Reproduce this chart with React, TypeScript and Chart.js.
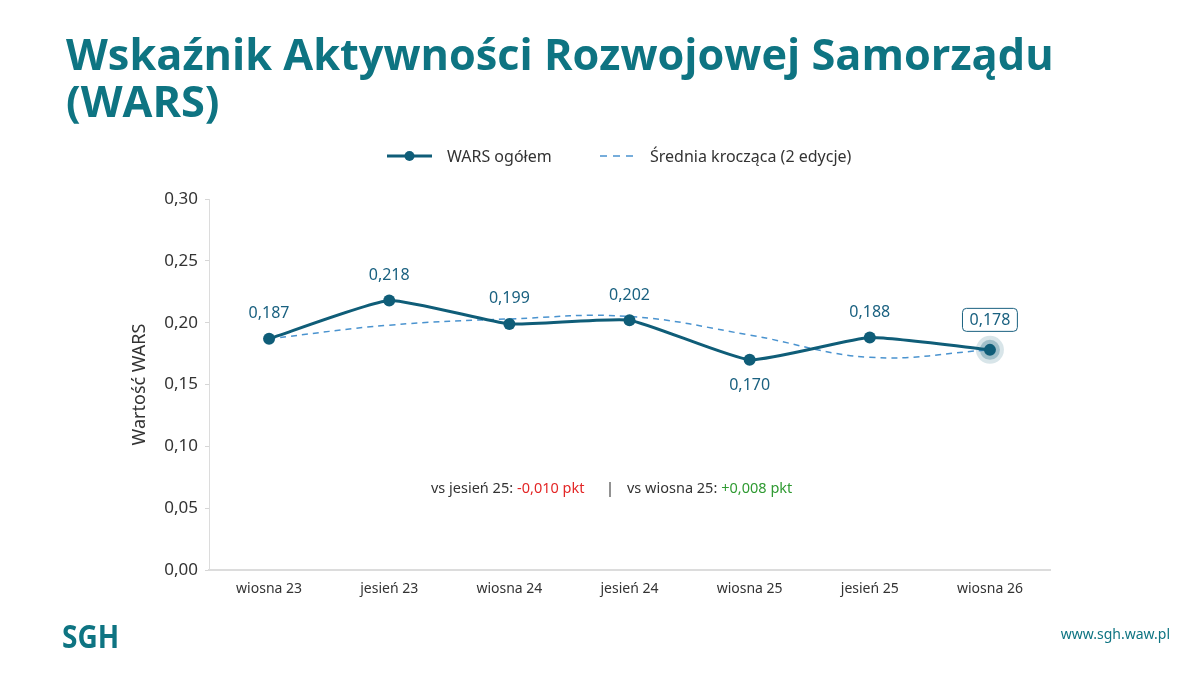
import React, { useEffect, useRef } from "react";
import { Chart, registerables } from "chart.js";

Chart.register(...registerables);

// Edycje badania
const categories = ["wiosna 23", "jesień 23", "wiosna 24", "jesień 24", "wiosna 25", "jesień 25", "wiosna 26"];
// Wartość WARS ogółem w kolejnych edycjach
const warsValues = [0.187, 0.218, 0.199, 0.202, 0.17, 0.188, 0.178];
// Średnia krocząca (2 edycje)
const movingAverage = [0.187, 0.198, 0.203, 0.205, 0.19, 0.172, 0.178];
// Oś Y
const yMin = 0;
const yMax = 0.3;
const yStep = 0.05;

const TEAL = "#0e7482";
const LINE = "#0f5d78";
const LABEL = "#1a6180";
const DASH = "#4a93cf";
const TEXT = "#333333";
const RED = "#e32626";
const GREEN = "#2f9a32";
const FONT = "'Noto Sans', 'Open Sans', sans-serif";

const fmt = (v: number, d: number) => v.toFixed(d).replace(".", ",");
const signed = (v: number) => (v >= 0 ? "+" : "-") + fmt(Math.abs(v), 3);

const overlayPlugin = {
  id: "warsOverlay",
  beforeDatasetsDraw(chart: any) {
    const ctx = chart.ctx;
    const meta = chart.getDatasetMeta(0);
    const last = meta.data[meta.data.length - 1];
    if (!last) return;
    ctx.save();
    ctx.fillStyle = "rgba(15, 93, 120, 0.16)";
    ctx.beginPath();
    ctx.arc(last.x, last.y, 14, 0, Math.PI * 2);
    ctx.fill();
    ctx.fillStyle = "rgba(15, 93, 120, 0.28)";
    ctx.beginPath();
    ctx.arc(last.x, last.y, 10, 0, Math.PI * 2);
    ctx.fill();
    ctx.restore();
  },
  afterDatasetsDraw(chart: any) {
    const ctx = chart.ctx;
    const meta = chart.getDatasetMeta(0);
    const n = meta.data.length;
    ctx.save();
    ctx.font = `16px ${FONT}`;
    ctx.textAlign = "center";
    ctx.textBaseline = "middle";
    const minIdx = warsValues.indexOf(Math.min(...warsValues));
    meta.data.forEach((pt: any, i: number) => {
      const text = fmt(warsValues[i], 3);
      if (i === n - 1) {
        const w = ctx.measureText(text).width + 14;
        const h = 23;
        const cy = pt.y - 30;
        ctx.fillStyle = "#ffffff";
        ctx.strokeStyle = LABEL;
        ctx.lineWidth = 1;
        ctx.beginPath();
        ctx.roundRect(pt.x - w / 2, cy - h / 2, w, h, 4);
        ctx.fill();
        ctx.stroke();
        ctx.fillStyle = LABEL;
        ctx.fillText(text, pt.x, cy + 1);
      } else {
        ctx.fillStyle = LABEL;
        ctx.fillText(text, pt.x, i === minIdx ? pt.y + 26 : pt.y - 25);
      }
    });

    // Różnice względem poprzednich edycji
    const dAutumn = warsValues[n - 1] - warsValues[n - 2];
    const dSpring = warsValues[n - 1] - warsValues[n - 3];
    ctx.font = `14.5px ${FONT}`;
    ctx.textAlign = "left";
    const drawGroup = (x: number, prefix: string, delta: number) => {
      ctx.fillStyle = TEXT;
      ctx.fillText(prefix, x, 489);
      x += ctx.measureText(prefix).width + 4;
      ctx.fillStyle = delta < 0 ? RED : GREEN;
      ctx.fillText(`${signed(delta)} pkt`, x, 489);
    };
    drawGroup(431, `vs ${categories[n - 2]}:`, dAutumn);
    ctx.fillStyle = TEXT;
    ctx.fillText("|", 606, 489);
    drawGroup(627, `vs ${categories[n - 3]}:`, dSpring);
    ctx.restore();
  },
  afterDraw(chart: any) {
    // Legenda
    const ctx = chart.ctx;
    const y = 156;
    ctx.save();
    ctx.font = `16px ${FONT}`;
    ctx.textBaseline = "middle";
    ctx.textAlign = "left";
    const l1 = chart.data.datasets[0].label;
    const l2 = chart.data.datasets[1].label;
    let x = 387;
    ctx.strokeStyle = LINE;
    ctx.lineWidth = 3;
    ctx.beginPath();
    ctx.moveTo(x, y);
    ctx.lineTo(x + 45, y);
    ctx.stroke();
    ctx.fillStyle = LINE;
    ctx.beginPath();
    ctx.arc(x + 22.5, y, 5, 0, Math.PI * 2);
    ctx.fill();
    ctx.fillStyle = TEXT;
    ctx.fillText(l1, 447, y + 1);
    x = 600;
    ctx.strokeStyle = DASH;
    ctx.lineWidth = 1.5;
    ctx.setLineDash([7, 6]);
    ctx.beginPath();
    ctx.moveTo(x, y);
    ctx.lineTo(x + 36, y);
    ctx.stroke();
    ctx.setLineDash([]);
    ctx.fillStyle = TEXT;
    ctx.fillText(l2, 650, y + 1);
    ctx.restore();
  },
};

export default function App() {
  const canvasRef = useRef<HTMLCanvasElement | null>(null);

  useEffect(() => {
    const canvas = canvasRef.current;
    if (!canvas) return;
    const chart = new Chart(canvas, {
      type: "line",
      data: {
        labels: categories,
        datasets: [
          {
            label: "WARS ogółem",
            data: warsValues,
            borderColor: LINE,
            backgroundColor: LINE,
            borderWidth: 3,
            pointRadius: 6,
            pointBackgroundColor: LINE,
            pointBorderWidth: 0,
            tension: 0.15,
            order: 0,
          },
          {
            label: "Średnia krocząca (2 edycje)",
            data: movingAverage,
            borderColor: DASH,
            borderWidth: 1.5,
            borderDash: [6, 5],
            pointRadius: 0,
            tension: 0.4,
            order: 1,
          },
        ],
      },
      options: {
        responsive: false,
        animation: false,
        devicePixelRatio: 1,
        layout: { padding: { left: 125, top: 199, right: 150, bottom: 68 } },
        plugins: { legend: { display: false }, tooltip: { enabled: false } },
        scales: {
          x: {
            offset: true,
            grid: { display: false, drawTicks: false },
            border: { color: "#dcdcdc", width: 2 },
            ticks: { color: TEXT, font: { family: FONT, size: 14 }, padding: 11 },
            afterFit: (s: any) => {
              s.height = 40;
            },
          },
          y: {
            min: yMin,
            max: yMax,
            grid: { drawOnChartArea: false, tickLength: 4, color: "#d6d6d6" },
            border: { color: "#dcdcdc" },
            ticks: {
              stepSize: yStep,
              color: TEXT,
              padding: 7,
              font: { family: FONT, size: 17 },
              callback: (v: any) => fmt(Number(v), 2),
            },
            title: {
              display: true,
              text: "Wartość WARS",
              color: TEXT,
              font: { family: FONT, size: 18 },
            },
            afterFit: (s: any) => {
              s.width = 84;
            },
          },
        },
      },
      plugins: [overlayPlugin],
    });
    return () => chart.destroy();
  }, []);

  return (
    <div
      style={{
        position: "fixed",
        left: 0,
        top: 0,
        width: 1200,
        height: 678,
        background: "#ffffff",
        overflow: "hidden",
      }}
    >
      <canvas ref={canvasRef} width={1200} height={678} style={{ position: "absolute", left: 0, top: 0 }} />
      <div
        style={{
          position: "absolute",
          left: 66,
          top: 30,
          fontFamily: "'Open Sans', sans-serif",
          fontWeight: 700,
          fontSize: 43.3,
          lineHeight: "47px",
          color: TEAL,
          whiteSpace: "nowrap",
        }}
      >
        Wskaźnik Aktywności Rozwojowej Samorządu
        <br />
        (WARS)
      </div>
      <div
        style={{
          position: "absolute",
          left: 62,
          top: 615,
          fontFamily: "'Open Sans', sans-serif",
          fontWeight: 700,
          fontSize: 28,
          lineHeight: "36px",
          color: TEAL,
          transform: "scaleY(1.15)",
          transformOrigin: "left top",
        }}
      >
        SGH
      </div>
      <div
        style={{
          position: "absolute",
          right: 30,
          top: 624,
          fontFamily: FONT,
          fontSize: 14,
          lineHeight: "20px",
          color: TEAL,
        }}
      >
        www.sgh.waw.pl
      </div>
    </div>
  );
}
